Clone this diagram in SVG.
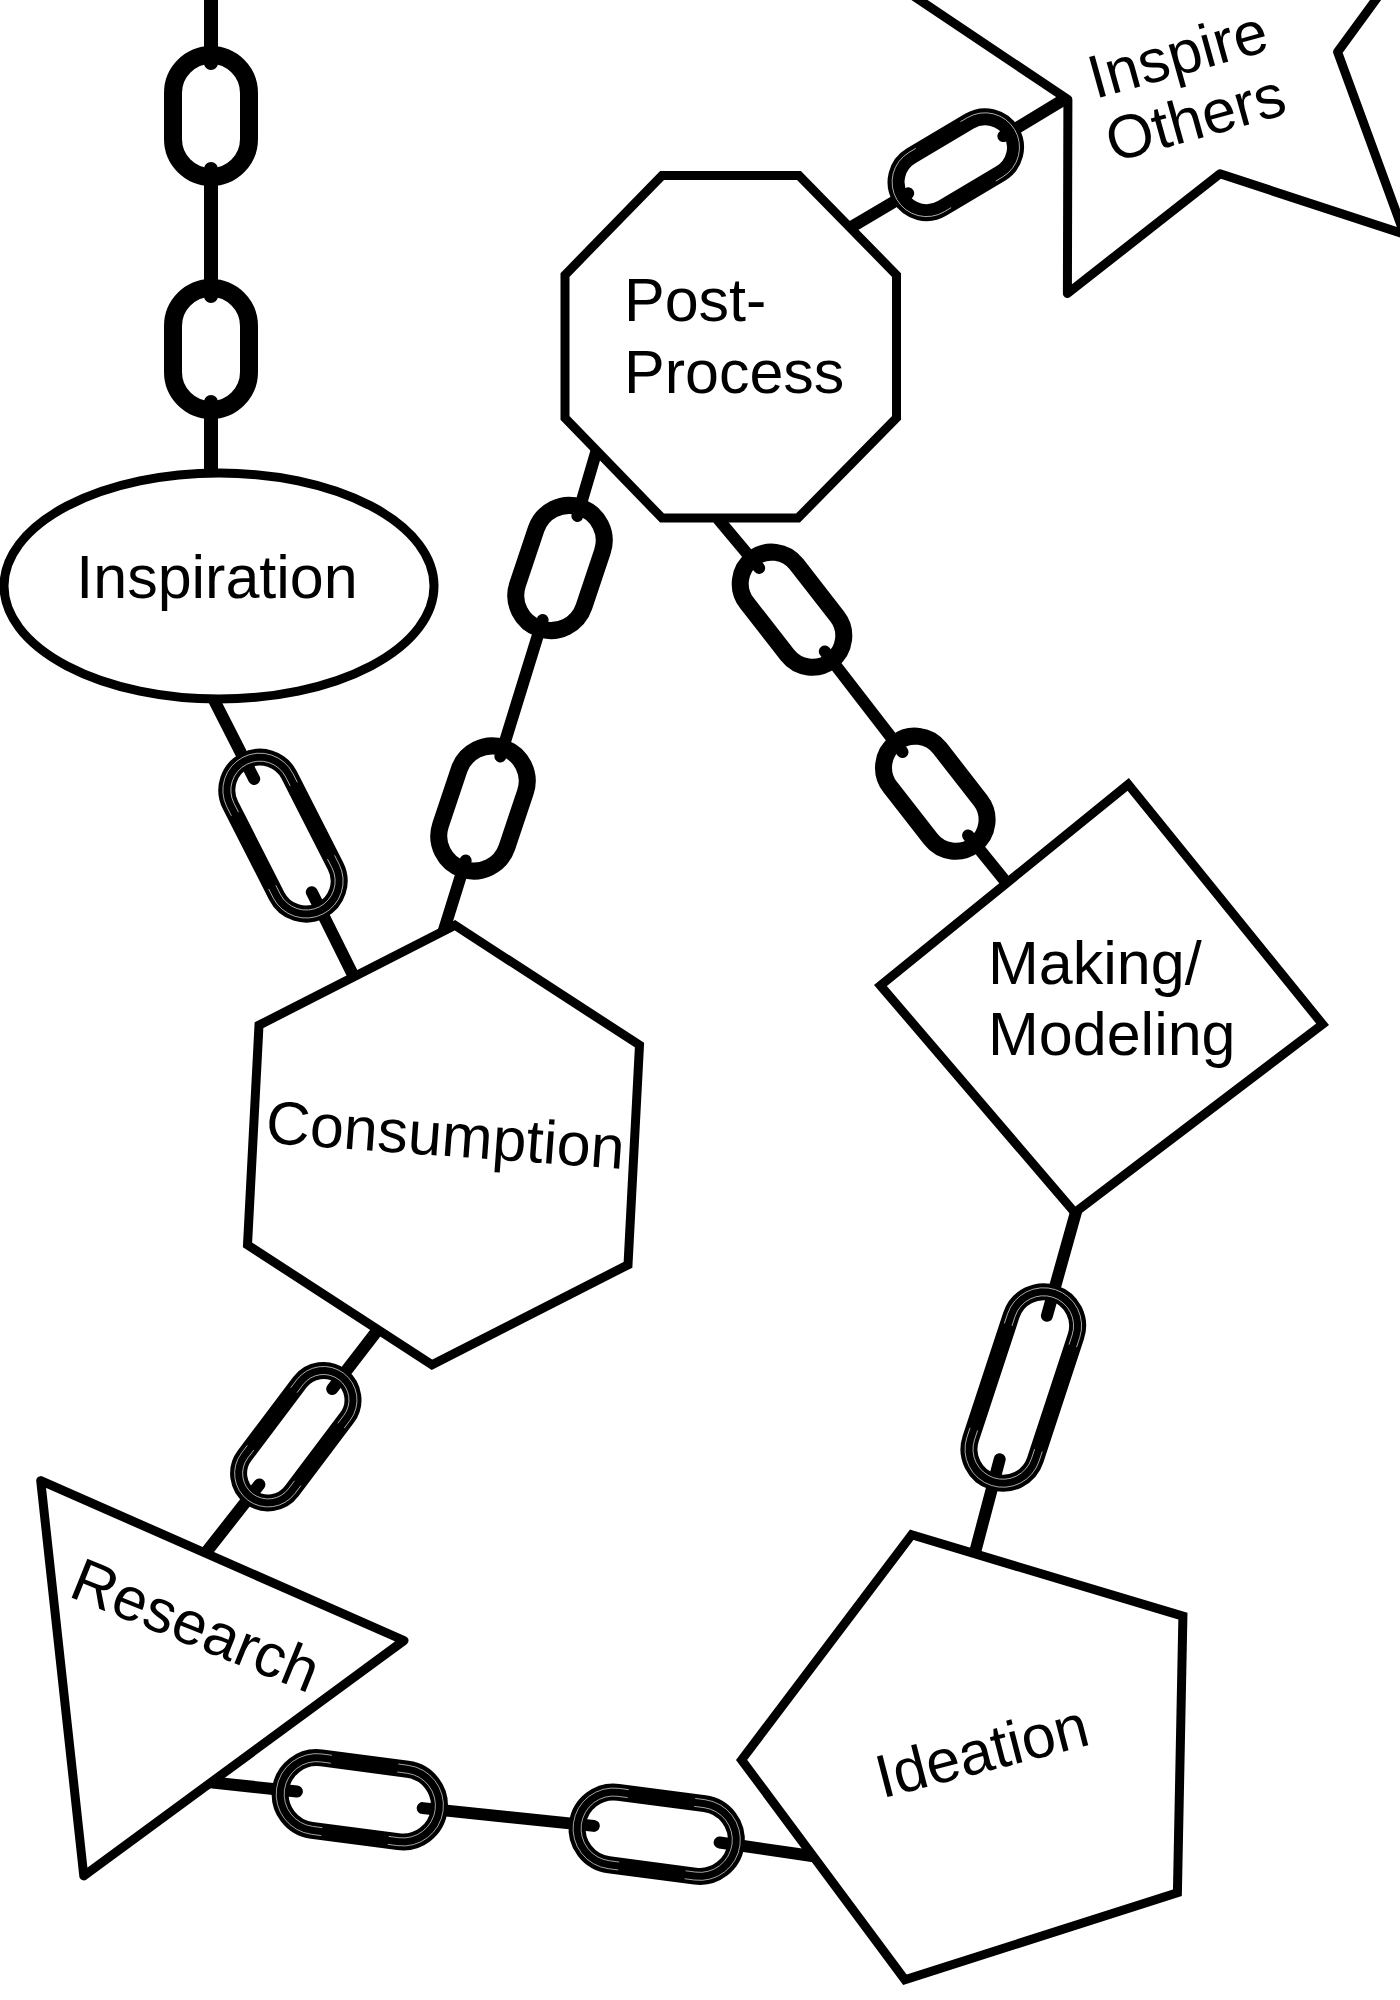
<svg xmlns="http://www.w3.org/2000/svg" width="1400" height="2000" viewBox="0 0 1400 2000">
<style>
  .node { fill: #fff; stroke: #000; stroke-width: 9; stroke-linejoin: miter; }
  .rj { stroke-linejoin: round; }
  .wire { fill: none; stroke: #000; stroke-width: 12; stroke-linecap: round; }
  .wire.thick { stroke-width: 14; }
  .link { fill: none; stroke: #000; stroke-width: 17; }
  .link.thick { stroke-width: 18; }
  .hair { fill: none; stroke: #fff; stroke-width: 0.8; stroke-opacity: 0.75; }
  .label { font-family: "Liberation Sans", Arial, Helvetica, sans-serif; font-size: 61px; fill: #000; }
</style>
<rect x="0" y="0" width="1400" height="2000" fill="#fff"/>

<g id="connectors">
  <!-- top chain into Inspiration -->
  <g id="c-top">
    <path class="wire thick" d="M211,-10 L211,63 M211,169 L211,296 M211,402 L211,478"/>
    <rect class="link thick" x="-61" y="-38" width="122" height="76" rx="38" transform="translate(211,116) rotate(90)"/>
    <rect class="link thick" x="-61" y="-38" width="122" height="76" rx="38" transform="translate(211,349) rotate(90)"/>
  </g>
  <!-- Inspiration to Consumption -->
  <g id="c-insp-cons">
    <path class="wire" d="M214,700 L254.2,779 M311.8,892.2 L354,977"/>
    <g transform="translate(283,835.6) rotate(63)">
      <rect class="link" x="-84" y="-33" width="168" height="66" rx="33"/>
      <path class="hair" d="M41,-37 H51 A37 37 0 0 1 51,37 H41 M-41,37 H-51 A37 37 0 0 1 -51,-37 H-41 M41,-29 H51 A29 29 0 0 1 51,29 H41 M-41,29 H-51 A29 29 0 0 1 -51,-29 H-41"/>
    </g>
  </g>
  <!-- Consumption to Post-Process -->
  <g id="c-cons-post">
    <path class="wire" d="M598,446 L577.4,515.9 M542.6,620.1 L500.4,756.4 M465.6,860.6 L444,930"/>
    <rect class="link" x="-64" y="-35" width="128" height="70" rx="35" transform="translate(560,568) rotate(108.5)"/>
    <rect class="link" x="-64" y="-35" width="128" height="70" rx="35" transform="translate(483,808.5) rotate(108.5)"/>
  </g>
  <!-- Post-Process to Inspire Others -->
  <g id="c-post-insp">
    <path class="wire" d="M848,229 L908.2,193.3 M1003.4,136.1 L1068,97"/>
    <g transform="translate(955.8,164.7) rotate(-30.8)">
      <rect class="link" x="-64.5" y="-30.5" width="129" height="61" rx="30.5"/>
      <path class="hair" d="M26,-34.5 H34 A34.5 34.5 0 0 1 34,34.5 H26 M-26,34.5 H-34 A34.5 34.5 0 0 1 -34,-34.5 H-26"/>
    </g>
  </g>
  <!-- Post-Process to Making/Modeling -->
  <g id="c-post-make">
    <path class="wire" d="M719,520 L759.2,568 M824.8,651.4 L902.5,752 M968.1,835.4 L1010,887"/>
    <rect class="link" x="-64.5" y="-31.5" width="129" height="63" rx="31.5" transform="translate(792,609.7) rotate(52.1)"/>
    <rect class="link" x="-64.5" y="-31.5" width="129" height="63" rx="31.5" transform="translate(935.3,793.7) rotate(52.1)"/>
  </g>
  <!-- Consumption to Research -->
  <g id="c-cons-res">
    <path class="wire" d="M380,1327 L332.2,1389 M259.4,1484.5 L204,1555"/>
    <g transform="translate(295.8,1436.7) rotate(127)">
      <rect class="link" x="-75.5" y="-29.5" width="151" height="59" rx="29.5"/>
      <path class="hair" d="M36,-33.5 H46 A33.5 33.5 0 0 1 46,33.5 H36 M-36,33.5 H-46 A33.5 33.5 0 0 1 -46,-33.5 H-36 M36,-25.5 H46 A25.5 25.5 0 0 1 46,25.5 H36 M-36,25.5 H-46 A25.5 25.5 0 0 1 -46,-25.5 H-36"/>
    </g>
  </g>
  <!-- Research to Ideation -->
  <g id="c-res-idea">
    <path class="wire" d="M208,1782 L296.9,1791.5 M422.7,1808.1 L593.8,1825.9 M719.6,1842.5 L812,1856"/>
    <g transform="translate(359.8,1799.8) rotate(7.5)">
      <rect class="link" x="-80" y="-36.5" width="160" height="73" rx="36.5"/>
      <path class="hair" d="M33.5,-40.5 H43.5 A40.5 40.5 0 0 1 43.5,40.5 H33.5 M-33.5,40.5 H-43.5 A40.5 40.5 0 0 1 -43.5,-40.5 H-33.5 M33.5,-32.5 H43.5 A32.5 32.5 0 0 1 43.5,32.5 H33.5 M-33.5,32.5 H-43.5 A32.5 32.5 0 0 1 -43.5,-32.5 H-33.5"/>
    </g>
    <g transform="translate(656.7,1834.2) rotate(7.5)">
      <rect class="link" x="-80" y="-36.5" width="160" height="73" rx="36.5"/>
      <path class="hair" d="M33.5,-40.5 H43.5 A40.5 40.5 0 0 1 43.5,40.5 H33.5 M-33.5,40.5 H-43.5 A40.5 40.5 0 0 1 -43.5,-40.5 H-33.5 M33.5,-32.5 H43.5 A32.5 32.5 0 0 1 43.5,32.5 H33.5 M-33.5,32.5 H-43.5 A32.5 32.5 0 0 1 -43.5,-32.5 H-33.5"/>
    </g>
  </g>
  <!-- Making/Modeling to Ideation -->
  <g id="c-make-idea">
    <path class="wire" d="M1076,1212 L1046.9,1315.8 M999.7,1459.2 L973,1560"/>
    <g transform="translate(1023.3,1387.5) rotate(108.2)">
      <rect class="link" x="-99" y="-34" width="198" height="68" rx="34"/>
      <path class="hair" d="M55,-38 H65 A38 38 0 0 1 65,38 H55 M-55,38 H-65 A38 38 0 0 1 -65,-38 H-55 M55,-30 H65 A30 30 0 0 1 65,30 H55 M-55,30 H-65 A30 30 0 0 1 -65,-30 H-55"/>
    </g>
  </g>
</g>

<g id="node-inspiration">
  <ellipse class="node" cx="219" cy="586" rx="215" ry="113"/>
  <text class="label" x="217" y="598" text-anchor="middle">Inspiration</text>
</g>

<g id="node-postprocess">
  <polygon class="node" points="662,175.5 799,175.5 896.5,275 896.5,418 798,518 662,518 565,418 565,275"/>
  <text class="label" x="624" y="321">Post-<tspan x="624" y="393">Process</tspan></text>
</g>

<g id="node-inspire-others">
  <polygon class="node rj" points="1404.3,234.2 1220,173.8 1067.4,293.5 1067.9,99.6 906.8,-8.5 1091.4,-68 1144.5,-254.6 1258.1,-97.4 1451.9,-104.6 1337.6,52"/>
  <text class="label" transform="translate(1095,99) rotate(-15.6)">Inspire<tspan x="0" y="66">Others</tspan></text>
</g>

<g id="node-consumption">
  <polygon class="node" points="455,925.3 639.5,1045.1 628,1264.8 432,1364.7 247.5,1244.9 259,1025.2"/>
  <text class="label" transform="translate(264.7,1142.7) rotate(4.2)">Consumption</text>
</g>

<g id="node-making">
  <polygon class="node" points="1128.2,784.4 1322.6,1024.3 1074.8,1212.6 880.4,985.5"/>
  <text class="label" x="988" y="984">Making/<tspan x="988" y="1055">Modeling</tspan></text>
</g>

<g id="node-research">
  <polygon class="node rj" points="40.7,1480.6 404,1640.5 83.8,1875.9"/>
  <text class="label" transform="translate(67,1595.7) rotate(22)">Research</text>
</g>

<g id="node-ideation">
  <polygon class="node" points="911.7,1534.8 1182.9,1616.2 1177.4,1892.8 904.9,1979.7 741.6,1759.9"/>
  <text class="label" transform="translate(882,1798.5) rotate(-14.5)">Ideation</text>
</g>
</svg>
